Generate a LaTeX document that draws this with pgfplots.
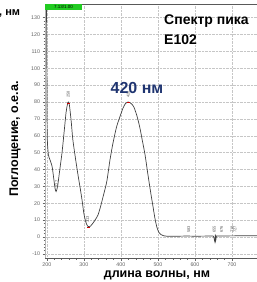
\documentclass[border=0pt]{standalone}
\usepackage{pgfplots}
\pgfplotsset{compat=1.18}
\usepackage{fontspec}
\setmainfont{Liberation Sans}
\definecolor{navy}{HTML}{1F3470}
\definecolor{grn}{HTML}{22CC22}
\definecolor{curve}{HTML}{404040}
\begin{document}
\begin{tikzpicture}[x=1pt,y=1pt]
\useasboundingbox (0,0) rectangle (257,282);
\clip (0,0) rectangle (257,282);
\begin{axis}[
  at={(45pt,24pt)}, anchor=south west,
  scale only axis, width=224pt, height=254pt,
  xmin=195, xmax=800, ymin=-12.4, ymax=138,
  xtick={200,300,...,700}, ytick={-10,0,...,130},
  extra x ticks={800}, extra x tick labels={},
  minor x tick num=4, minor y tick num=4,
  xtick pos=bottom, ytick pos=left,
  tick align=outside,
  tick style={gray!80!black, line width=0.4pt},
  major tick length=2.5pt, minor tick length=1.5pt,
  grid=major,
  major grid style={densely dotted, gray!45, line width=0.4pt},
  axis line style={gray!70!black, line width=0.5pt},
  ticklabel style={font=\fontsize{5.3}{5.3}\selectfont, text=gray!75!black},
  /pgf/number format/assume math mode=true,
  yticklabel style={xshift=1pt},
  xticklabel style={yshift=1pt},
]
\draw[gray!60, line width=2.4pt] (axis cs:195,-12.4) -- (axis cs:195,138);
\addplot[curve, line width=0.7pt, smooth, tension=0.4] table {
x y
199 140
200 100
201 60
204 49
208 46
214 42
219 34
222 29
225 27
229 30
235 40
241 50
247 63
252 74
256 79
258 80
261 78
266 68
270 58
277 47
284 37
290 29
295 22
300 14
305 9
310 6.5
315 6
322 7.5
330 10
338 13
345 18
352 24
362 33
370 45
378 55
388 65
397 71
405 76
412 79
420 80
428 79
435 77
443 72
451 65
458 57
465 49
473 37
480 27
486 19
492 11
497 6
502 3
508 1.5
515 0.8
525 0.5
550 0.5
580 0.6
600 0.5
640 0.6
650 0.5
652 -1
654 -3
655 1.5
656 -2
658 0.5
660 0.6
700 0.7
750 0.8
800 0.8
};
\addplot[red!80!black, only marks, mark=-, mark size=1.2pt] coordinates {(258,79) (420,80) (313,6)};
\begin{scope}[every node/.style={rotate=90, anchor=west, font=\fontsize{4}{4}\selectfont, text=gray!70!black, inner sep=0.5pt}]
\node at (axis cs:227,29) {227};
\node at (axis cs:258,82) {258};
\node at (axis cs:310,8) {313};
\node at (axis cs:420,82) {420};
\node at (axis cs:583,2) {583};
\node at (axis cs:652,2) {655};
\node at (axis cs:672,2) {676};
\node at (axis cs:700,2) {718};
\node at (axis cs:708,2) {727};
\end{scope}
\end{axis}
\fill[grn] (45,272) rectangle (82,278);
\node[font=\fontsize{4.5}{4.5}\selectfont, inner sep=0pt] at (63.5,275) {7.13/1.00};
\node[anchor=west, font=\bfseries\fontsize{11}{11}\selectfont, inner sep=0pt] at (-1,269) {, нм};
\node[rotate=90, font=\bfseries\fontsize{12.5}{12.5}\selectfont, inner sep=0pt] at (15,143) {Поглощение, о.е.а.};
\node[font=\bfseries\fontsize{12.5}{12.5}\selectfont, inner sep=0pt] at (157,7) {длина волны, нм};
\node[anchor=north west, align=left, font=\bfseries\fontsize{14}{20}\selectfont, inner sep=0pt] at (164,267) {Спектр пика\\Е102};
\node[font=\bfseries\fontsize{16}{16}\selectfont, text=navy, inner sep=0pt] at (137,194) {420 нм};
\end{tikzpicture}
\end{document}
